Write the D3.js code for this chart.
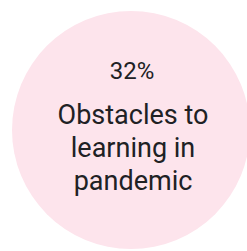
<!DOCTYPE html>
<html>
<head>
<meta charset="utf-8">
<script src="https://cdn.jsdelivr.net/npm/d3@7"></script>
<style>
  html, body { margin: 0; padding: 0; background: #fff; overflow: hidden; }
  text { font-family: Roboto, "Noto Sans", sans-serif; fill: #202124; }
</style>
</head>
<body>
<div id="chart"></div>
<script>
const values = [32];
const labels = ["32%"];
const categories = [["Obstacles to", "learning in", "pandemic"]];

const width = 247, height = 251;

const svg = d3.select("#chart")
    .append("svg")
    .attr("width", width)
    .attr("height", height);

const r = d3.scaleSqrt()
    .domain([0, 32])
    .range([0, 119]);

const cx = 131, cy = 130;

const g = svg.selectAll(".bubble")
    .data(values)
    .join("g")
    .attr("class", "bubble")
    .attr("transform", `translate(${cx},${cy})`);

g.append("circle")
    .attr("r", d => r(d))
    .style("fill", "#fde4ec");

g.append("text")
    .attr("x", 1)
    .attr("text-anchor", "middle")
    .attr("y", -51)
    .style("font-size", "24px")
    .text((d, i) => labels[i]);

g.each(function (d, i) {
    const t = d3.select(this).append("text")
        .attr("text-anchor", "middle")
        .style("font-size", "27px");
    categories[i].forEach((line, j) => {
        t.append("tspan")
            .attr("x", 2)
            .attr("y", -6 + j * 33)
            .text(line);
    });
});
</script>
</body>
</html>
